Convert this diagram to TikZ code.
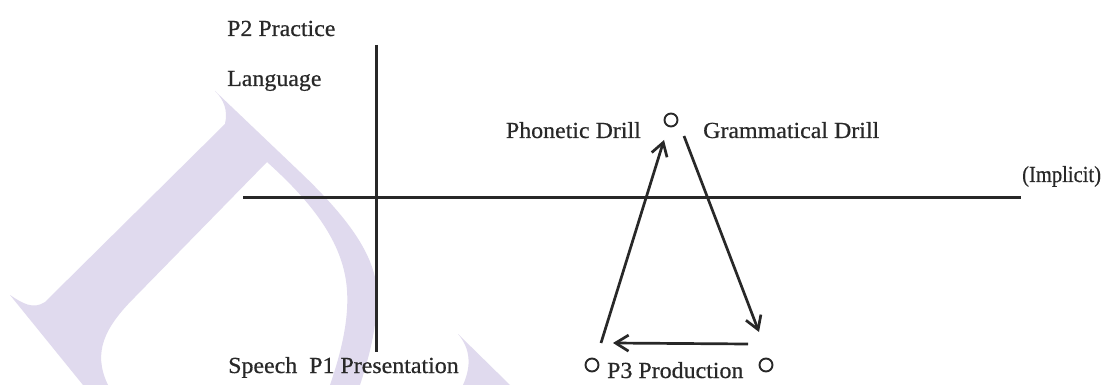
\documentclass[tikz,border=0pt]{standalone}
\usepackage{fontspec}
\setmainfont{Liberation Serif}[FakeStretch=1.04,FakeBold=0.6]
\usetikzlibrary{arrows.meta,calc}
\definecolor{wmcol}{RGB}{224,218,238}
\definecolor{ink}{RGB}{40,40,40}
\begin{document}
\begin{tikzpicture}[x=1pt,y=-1pt,
  lab/.style={inner sep=0pt, text=ink, font=\fontsize{23}{27}\selectfont},
  axis/.style={draw=ink, line width=3pt},
  arr/.style={draw=ink, line width=2.7pt, -{Straight Barb[length=13pt,width=16pt,line width=2.7pt]}},
  dot/.style={circle, draw=ink, line width=1.9pt, minimum size=13pt, inner sep=0pt},
  wm/.style={fill=wmcol, draw=none}]
\useasboundingbox (0,0) rectangle (1106,385);
\fill[white] (0,0) rectangle (1106,385);
% watermark
\path[wm] (215,91) -- (300,172) .. controls (345,215) and (377,255) .. (377,295)
  .. controls (377,330) and (368,360) .. (360,385) -- (330,385)
  .. controls (342,350) and (352,310) .. (345,275)
  .. controls (338,240) and (315,205) .. (267,162) -- (135,297)
  .. controls (105,327) and (92,352) .. (108,385) -- (83,385) -- (10,295)
  .. controls (22,303) and (33,310) .. (45,302) -- (225,124)
  .. controls (228,110) and (224,100) .. (215,91) -- cycle;
\path[wm] (458,334) -- (510,385) -- (463,385) .. controls (472,365) and (470,348) .. (458,334) -- cycle;
% axes
\coordinate (vT) at (376,45);
\coordinate (vB) at (376,352);
\coordinate (hL) at (243,197);
\coordinate (hR) at (1021,197);
\draw[axis] (vT) -- (vB);
\draw[axis] (hL) -- (hR);
% labels
\node[lab, anchor=base west] (p2) at (227,36) {P2 Practice};
\node[lab, anchor=base west] (lang) at (227,86) {Language};
\node[lab, anchor=base east] (phon) at (641,138) {Phonetic Drill};
\node[lab, anchor=base west] (gram) at (703,138) {Grammatical Drill};
\node[lab, anchor=base west] (impl) at (1022,182) {\scalebox{0.86}[1]{(Implicit)}};
\node[lab, anchor=base west] (speech) at (228,373) {Speech\ \ P1 Presentation};
\node[lab, anchor=base west] (p3) at (607,378) {P3 Production};
% circles
\node[dot] (cT) at (671,120) {};
\node[dot] (cL) at (592,365) {};
\node[dot] (cR) at (766,365) {};
% arrow end points
\coordinate (uS) at (601,343);
\coordinate (uE) at (664,140);
\coordinate (dS) at (684,136);
\coordinate (dE) at (759,332);
\coordinate (lS) at (748,344);
\coordinate (lE) at (613,343);
\draw[arr] (uS) -- (uE);
\draw[arr] (dS) -- (dE);
\draw[arr] (lS) -- (lE);
\end{tikzpicture}
\end{document}
